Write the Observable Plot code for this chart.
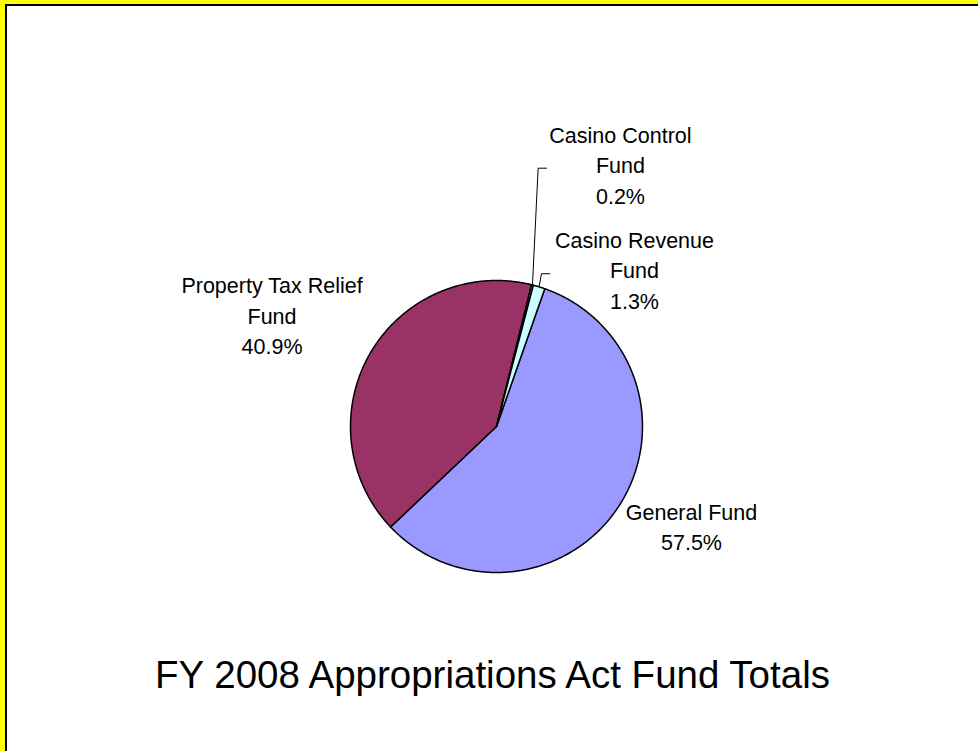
<!DOCTYPE html>
<html><head><meta charset="utf-8">
<script src="https://cdn.jsdelivr.net/npm/d3@7"></script>
<script src="https://cdn.jsdelivr.net/npm/@observablehq/plot@0.6"></script>
<style>
html,body{margin:0;padding:0;background:#fff;width:978px;height:751px;overflow:hidden;}
#frame{position:absolute;left:0;top:0;width:973px;height:747px;border-left:5px solid #ffff00;border-top:4px solid #ffff00;overflow:hidden;background:#fff;}
#inner{width:971px;height:745px;border-left:2px solid #000;border-top:2px solid #000;background:#fff;}
#title{font-family:"Liberation Sans",Arial,sans-serif;font-size:38.5px;line-height:44px;text-align:center;margin-top:12px;color:#000;white-space:nowrap;}
svg{display:block}
</style></head><body>
<div id="frame"><div id="inner"><div id="chart"></div><div id="title"></div></div></div>
<script>
// ---- data ----
const categories = ["General Fund", "Property Tax Relief Fund", "Casino Control Fund", "Casino Revenue Fund"];
const labelText = ["General Fund", "Property Tax Relief\nFund", "Casino Control\nFund", "Casino Revenue\nFund"];
const percents = [57.5, 40.9, 0.2, 1.3];
const colors = ["#9999FF", "#993366", "#FFFFCC", "#CCFFFF"];
const chartTitle = "FY 2008 Appropriations Act Fund Totals";

// ---- layout (pixels) ----
const W = 971, H = 635;
const CX = 489, CY = 420, R = 146;
const startDeg = 19.3;
// label nudges from slice mid-point on the rim (px)
const labelNudge = {
  "General Fund": [72.4, 19.2],
  "Property Tax Relief Fund": [-98.3, -39.1],
  "Casino Control Fund": [88, -121.5],
  "Casino Revenue Fund": [95.4, -18.4]
};
// leader lines (elbow and end offsets from rim point, px)
const leaderOffsets = {
  "Casino Control Fund": [[5.7, -116.8], [14, -116.8]],
  "Casino Revenue Fund": [[2.4, -13.1], [10.7, -13.1]]
};

const pie = d3.pie().sort(null).value(d => d.value)
  .startAngle(startDeg * Math.PI / 180).endAngle(startDeg * Math.PI / 180 + 2 * Math.PI);
const rows = categories.map((name, i) => ({name, value: percents[i], label: labelText[i]}));
const arcs = pie(rows);

const slicePts = [];
const labels = [];
const leaderPts = [];
for (const a of arcs) {
  const name = a.data.name;
  slicePts.push({name, x: 0, y: 0});
  const n = Math.max(2, Math.ceil((a.endAngle - a.startAngle) / (0.4 * Math.PI / 180)));
  for (let k = 0; k <= n; k++) {
    const t = a.startAngle + (a.endAngle - a.startAngle) * k / n;
    slicePts.push({name, x: Math.sin(t), y: Math.cos(t)});
  }
  slicePts.push({name, x: 0, y: 0});
  const mid = (a.startAngle + a.endAngle) / 2;
  const mx = Math.sin(mid), my = Math.cos(mid);
  const [ndx, ndy] = labelNudge[name];
  labels.push({name, x: mx + ndx / R, y: my - ndy / R, text: `${a.data.label}\n${a.data.value.toFixed(1)}%`});
  if (leaderOffsets[name]) {
    leaderPts.push({name, x: mx, y: my});
    for (const [ox, oy] of leaderOffsets[name]) leaderPts.push({name, x: mx + ox / R, y: my - oy / R});
  }
}

const chart = Plot.plot({
  width: W, height: H, margin: 0,
  style: {background: "transparent", fontFamily: "Liberation Sans, Arial, sans-serif"},
  x: {domain: [-1, 1], range: [CX - R, CX + R], axis: null},
  y: {domain: [-1, 1], range: [CY + R, CY - R], axis: null},
  color: {domain: categories, range: colors},
  marks: [
    Plot.line(slicePts, {x: "x", y: "y", z: "name", fill: "name", stroke: "#000", strokeWidth: 1.5, strokeLinejoin: "round", curve: "linear"}),
    Plot.line(leaderPts, {x: "x", y: "y", z: "name", stroke: "#000", strokeWidth: 1, curve: "linear"}),
    Plot.text(labels, {x: "x", y: "y", text: "text", textAnchor: "middle", lineAnchor: "middle", lineHeight: 1.42, fontSize: 21.5, fill: "#000", fontFamily: "Liberation Sans, Arial, sans-serif"})
  ]
});
document.getElementById("chart").appendChild(chart);
document.getElementById("title").textContent = chartTitle;
</script>
</body></html>
